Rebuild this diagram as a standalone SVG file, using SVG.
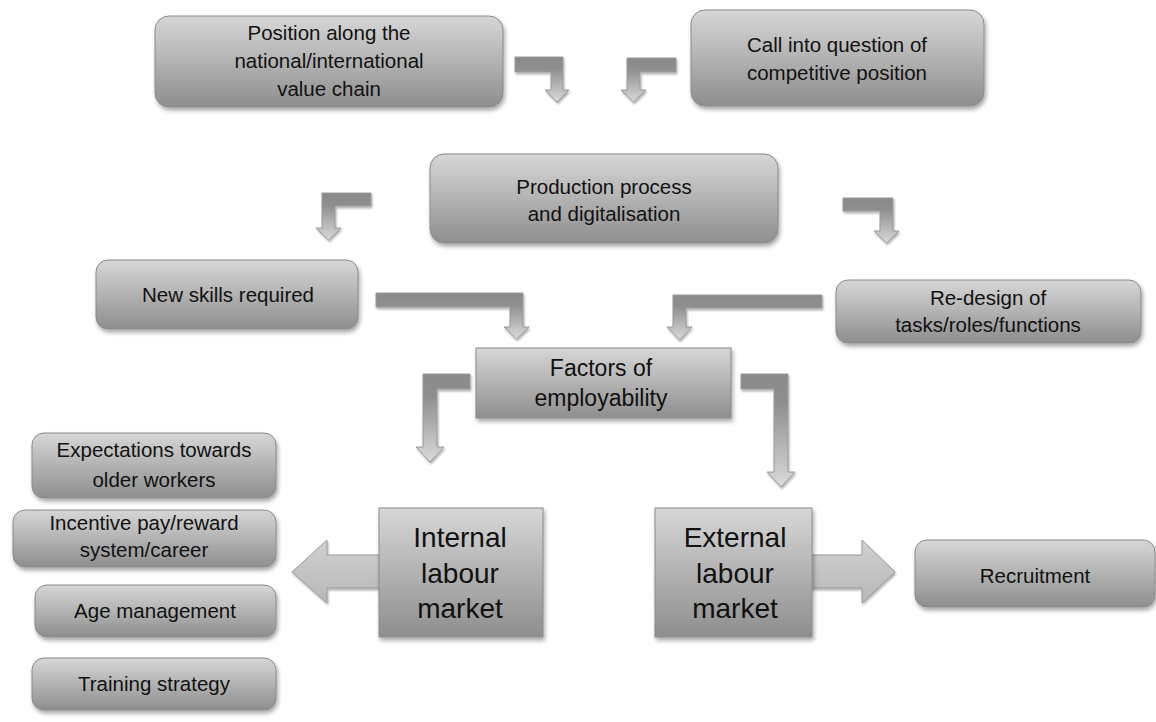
<svg xmlns="http://www.w3.org/2000/svg" width="1156" height="722" viewBox="0 0 1156 722">
<defs>
<linearGradient id="boxg" x1="0" y1="0" x2="0" y2="1">
<stop offset="0" stop-color="#d7d7d7"/>
<stop offset="1" stop-color="#8e8e8e"/>
</linearGradient>
<linearGradient id="arrg" x1="0" y1="0" x2="0" y2="1">
<stop offset="0" stop-color="#8a8a8a"/>
<stop offset="0.25" stop-color="#8e8e8e"/>
<stop offset="1" stop-color="#dadada"/>
</linearGradient>
<linearGradient id="bigg" x1="0" y1="0" x2="0" y2="1">
<stop offset="0" stop-color="#d0d0d0"/>
<stop offset="1" stop-color="#b8b8b8"/>
</linearGradient>
<filter id="sh" x="-10%" y="-10%" width="130%" height="140%">
<feDropShadow dx="1.5" dy="3" stdDeviation="2" flood-color="#000" flood-opacity="0.35"/>
</filter>
<filter id="ash" x="-20%" y="-20%" width="150%" height="150%">
<feDropShadow dx="1" dy="2" stdDeviation="1.2" flood-color="#000" flood-opacity="0.3"/>
</filter>
</defs>
<style>
.box{fill:url(#boxg);stroke:#8a8a8a;stroke-width:1;filter:url(#sh)}
.arr{fill:url(#arrg);stroke:#9a9a9a;stroke-width:1;filter:url(#ash)}
.big{fill:url(#bigg);stroke:#999;stroke-width:1;filter:url(#ash)}
text{font-family:"Liberation Sans",Arial,sans-serif;fill:#111;text-anchor:middle}
.t{font-size:20.5px}
.m{font-size:23px}
.l{font-size:28px}
</style>
<g id="connectors">
<polygon class="arr" points="515,57 563,57 563,90 569,90 557,102 545,90 551,90 551,72 515,72"/>
<polygon class="arr" points="676,58 627,58 627,90 621,90 633.5,102 646,90 640,90 640,72 676,72"/>
<polygon class="arr" points="371,193 322,193 322,228 316,228 328.5,240 341,228 335,228 335,206 371,206"/>
<polygon class="arr" points="843,198 893,198 893,231 899,231 886.5,243 874,231 880,231 880,211 843,211"/>
<polygon class="arr" points="376,293 523,293 523,327 529,327 516.5,339 504,327 510,327 510,307 376,307"/>
<polygon class="arr" points="822,295 673,295 673,327 667,327 679.5,340 692,327 686,327 686,308 822,308"/>
<polygon class="arr" points="470,374 423,374 423,447 416,447 430,462 444,447 437,447 437,389 470,389"/>
<polygon class="arr" points="741,374 788,374 788,472 795,472 781,487 767,472 774,472 774,389 741,389"/>
<polygon class="big" points="381,555 327,555 327,540 292,572 327,603 327,588 381,588"/>
<polygon class="big" points="810,555 862,555 862,540 895,572 862,603 862,588 810,588"/>
</g>
<g id="position">
<rect class="box" x="155" y="16" width="348" height="91" rx="14"/>
<text class="t" x="329" y="40">Position along the</text>
<text class="t" x="329" y="68">national/international</text>
<text class="t" x="329" y="96">value chain</text>
</g>
<g id="callinto">
<rect class="box" x="691" y="10" width="293" height="96" rx="14"/>
<text class="t" x="837" y="52">Call into question of</text>
<text class="t" x="837" y="80">competitive position</text>
</g>
<g id="production">
<rect class="box" x="430" y="154" width="348" height="89" rx="14"/>
<text class="t" x="604" y="194">Production process</text>
<text class="t" x="604" y="221">and digitalisation</text>
</g>
<g id="newskills">
<rect class="box" x="96" y="260" width="262" height="69" rx="12"/>
<text class="t" x="228" y="302">New skills required</text>
</g>
<g id="redesign">
<rect class="box" x="836" y="280" width="305" height="63" rx="12"/>
<text class="t" x="988" y="305">Re-design of</text>
<text class="t" x="988" y="332">tasks/roles/functions</text>
</g>
<g id="factors">
<rect class="box" x="476" y="348" width="255" height="70"/>
<text class="m" x="601" y="376">Factors of</text>
<text class="m" x="601" y="406">employability</text>
</g>
<g id="internal">
<rect class="box" x="379" y="508" width="164" height="129"/>
<text class="l" x="460" y="547">Internal</text>
<text class="l" x="460" y="583">labour</text>
<text class="l" x="460" y="618">market</text>
</g>
<g id="external">
<rect class="box" x="655" y="508" width="157" height="129"/>
<text class="l" x="735" y="547">External</text>
<text class="l" x="735" y="583">labour</text>
<text class="l" x="735" y="618">market</text>
</g>
<g id="recruitment">
<rect class="box" x="915" y="540" width="240" height="67" rx="12"/>
<text class="t" x="1035" y="583">Recruitment</text>
</g>
<g id="expectations">
<rect class="box" x="32" y="433" width="244" height="65" rx="12"/>
<text class="t" x="154" y="457">Expectations towards</text>
<text class="t" x="154" y="487">older workers</text>
</g>
<g id="incentive">
<rect class="box" x="13" y="510" width="263" height="57" rx="12"/>
<text class="t" x="144" y="530">Incentive pay/reward</text>
<text class="t" x="144" y="557">system/career</text>
</g>
<g id="age">
<rect class="box" x="35" y="585" width="241" height="52" rx="12"/>
<text class="t" x="155" y="618">Age management</text>
</g>
<g id="training">
<rect class="box" x="32" y="658" width="244" height="52" rx="12"/>
<text class="t" x="154" y="691">Training strategy</text>
</g>
</svg>
